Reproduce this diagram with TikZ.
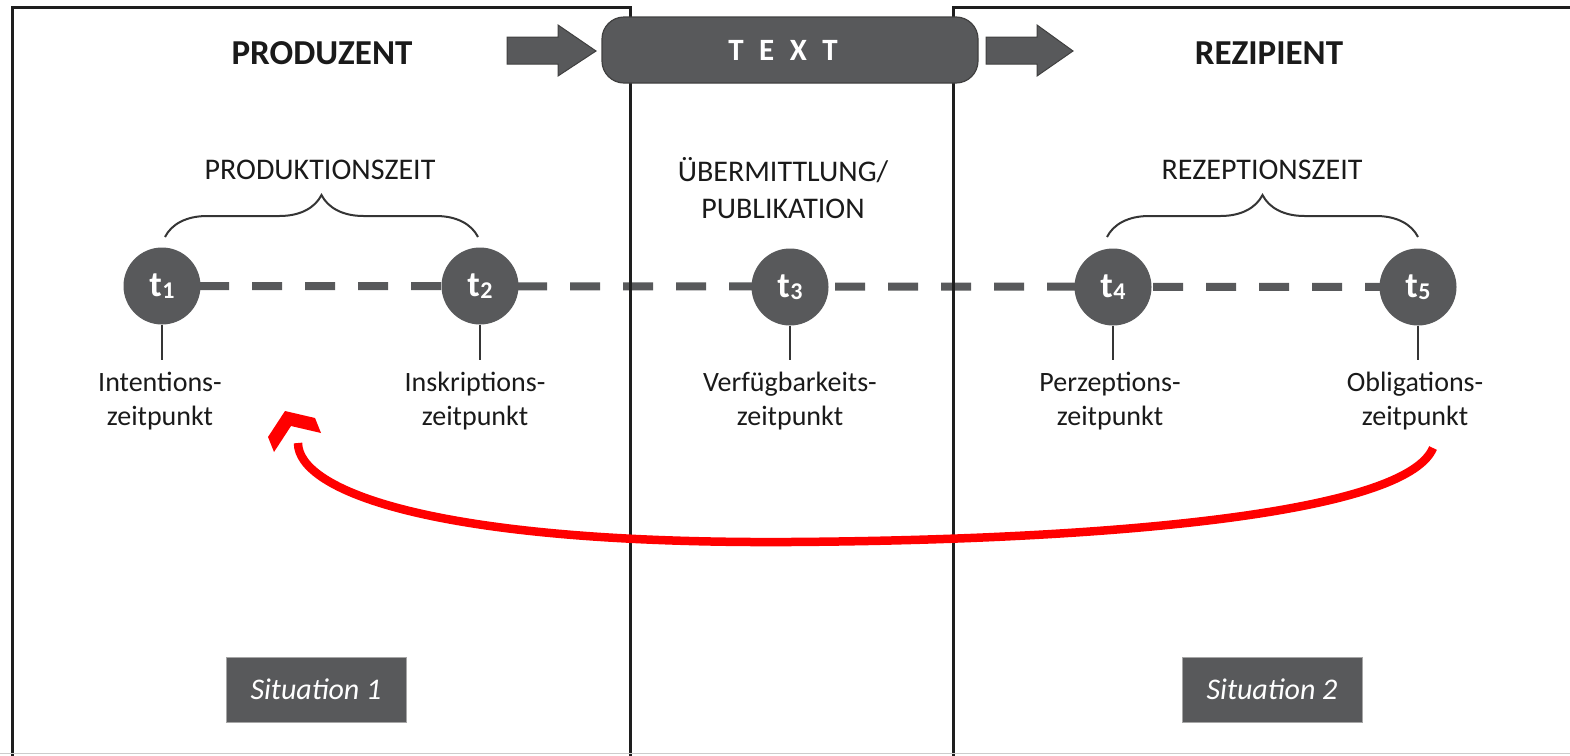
\documentclass[tikz,border=0pt]{standalone}
\usepackage{fontspec}
\setmainfont{Carlito}
\usetikzlibrary{decorations.pathreplacing,backgrounds,calc}
\definecolor{dg}{HTML}{58595B}
\definecolor{ln}{HTML}{1E1E1E}
\definecolor{txt}{HTML}{1A1A1A}
\newcommand{\tlabel}[1]{t\kern0.5pt\raisebox{-2.5pt}{\fontsize{24}{24}\selectfont #1}}
\begin{document}
\begin{tikzpicture}[x=1pt,y=-1pt,
  frame/.style={draw=ln, line width=3pt},
  textbox/.style={rounded corners=22pt, fill=dg, draw=ln!85, line width=1.2pt, minimum width=376pt, minimum height=66pt, text=white, font=\fontsize{31}{31}\selectfont\bfseries, inner sep=0pt},
  blockarrow/.style={fill=dg, draw=ln!85, line width=1pt, line join=miter},
  tnode/.style={circle, fill=dg, minimum size=77pt, inner sep=0pt, text=white, font=\fontsize{36}{36}\selectfont\bfseries},
  header/.style={text=txt, font=\fontsize{35}{35}\selectfont\bfseries, inner sep=0pt},
  section/.style={text=txt, font=\fontsize{30}{37}\selectfont, align=center, inner sep=0pt},
  label/.style={text=txt, font=\fontsize{28}{34}\selectfont, align=center, anchor=north, inner sep=0pt},
  dashline/.style={draw=dg, line width=8pt, dash pattern=on 30pt off 23pt, dash phase=16pt},
  tick/.style={draw=ln!90, line width=2pt},
  bracestyle/.style={draw=ln!90, line width=2pt, decorate, decoration={brace, amplitude=42pt}},
  redline/.style={draw=red, line width=8.5pt},
  redtip/.style={fill=red, draw=none},
  sitbox/.style={fill=dg, draw=gray!70, line width=0.8pt, minimum width=180pt, minimum height=65pt, text=white, font=\fontsize{30}{30}\selectfont\itshape, inner sep=0pt}
]
\useasboundingbox (0,0) rectangle (1570,755);
% frames
\draw[frame] (12,756) -- (12,7) -- (630,7) -- (630,756);
\draw[frame] (953,756) -- (953,7) -- (1572,7);
\draw[gray!40, line width=1.5pt] (0,753.5) -- (1570,753.5);

% top row
\draw[blockarrow] (507,37) -- (558,37) -- (558,25) -- (596,51) -- (558,76) -- (558,64) -- (507,64) -- cycle;
\draw[blockarrow] (986,37) -- (1037,37) -- (1037,25) -- (1073,51) -- (1037,76) -- (1037,64) -- (986,64) -- cycle;
\node[textbox] (text) at (790,50) {\hspace*{-14pt}T\hspace{0.5em}E\hspace{0.5em}X\hspace{0.5em}T};
\node[header] (prod) at (322,53) {PRODUZENT};
\node[header] (rez) at (1269,53) {REZIPIENT};

% sections
\node[section] (pz) at (320,170) {PRODUKTIONSZEIT};
\node[section] (uep) at (783,188) {ÜBERMITTLUNG/\\PUBLIKATION};
\node[section] (rz) at (1262,170) {REZEPTIONSZEIT};

\coordinate (b1a) at (165,237);
\coordinate (b1b) at (478,237);
\coordinate (b2a) at (1107,237);
\coordinate (b2b) at (1418,237);
\draw[bracestyle] (b1a) -- (b1b);
\draw[bracestyle] (b2a) -- (b2b);

% time points
\node[tnode] (t1) at (162,286) {\tlabel{1}};
\node[tnode] (t2) at (480,286) {\tlabel{2}};
\node[tnode] (t3) at (790,287) {\tlabel{3}};
\node[tnode] (t4) at (1113,287) {\tlabel{4}};
\node[tnode] (t5) at (1418,287) {\tlabel{5}};
\begin{scope}[on background layer]
\draw[dashline] (t1.center) -- (t5.center);
\end{scope}

% labels
\node[label] (l1) at (160,372) {Intentions-\\zeitpunkt};
\node[label] (l2) at (475,372) {Inskriptions-\\zeitpunkt};
\node[label] (l3) at (790,372) {Verfügbarkeits-\\zeitpunkt};
\node[label] (l4) at (1110,372) {Perzeptions-\\zeitpunkt};
\node[label] (l5) at (1415,372) {Obligations-\\zeitpunkt};
\foreach \i in {1,...,5}{
  \draw[tick] (t\i.south) -- ($(t\i.south |- l\i.north)+(0,-12)$);
}

% red feedback arrow
\coordinate (rs) at (1433,448);
\coordinate (re) at (298,443);
\draw[redline] (rs) .. controls (1405,515) and (1100,540) .. (790,542) .. controls (430,544) and (298,490) .. (re);
\fill[redtip] (268,437) -- (285,411) -- (315,418) -- (321,433) -- (291,426) -- (274,452) -- cycle;

% situations
\node[sitbox] (s1) at (316,689.5) {Situation 1};
\node[sitbox] (s2) at (1272,689.5) {Situation 2};
\end{tikzpicture}
\end{document}
